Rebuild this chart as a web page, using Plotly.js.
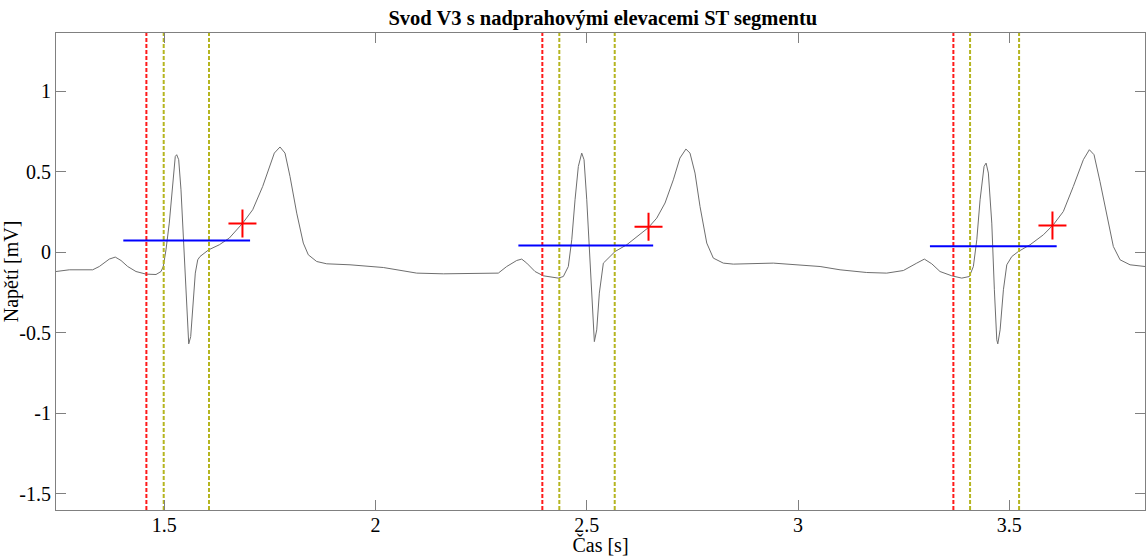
<!DOCTYPE html>
<html>
<head>
<meta charset="utf-8">
<script src="https://cdn.plot.ly/plotly-3.0.1.min.js"></script>
<style>html,body{margin:0;padding:0;background:#fff;}#chart{width:1146px;height:556px;}</style>
</head>
<body>
<div id="chart"></div>
<script>
// ECG signal (lead V3), time in s, voltage in mV
var time = [1.2437,1.2751,1.3305,1.3462,1.3698,1.384,1.3975,1.4134,1.433,1.4567,1.4804,1.4922,1.4976,1.504,1.5118,1.5199,1.526,1.5293,1.5341,1.5395,1.545,1.5514,1.5554,1.5578,1.5625,1.5672,1.5734,1.5791,1.5845,1.6051,1.6302,1.6538,1.6856,1.7092,1.7329,1.7604,1.7738,1.7857,1.7975,1.8134,1.829,1.8408,1.8607,1.8844,1.9395,2.0183,2.0579,2.0974,2.1604,2.2077,2.255,2.2905,2.3104,2.3341,2.3459,2.3578,2.3774,2.3971,2.4326,2.4444,2.4562,2.4643,2.4721,2.4799,2.4879,2.4934,2.4998,2.5076,2.514,2.5178,2.5234,2.5296,2.5391,2.5509,2.5668,2.5944,2.6259,2.6456,2.6654,2.6851,2.7047,2.7203,2.7345,2.7442,2.756,2.7679,2.7838,2.7994,2.823,2.8467,2.9414,2.9887,3.052,3.0993,3.1625,3.2098,3.2491,3.2808,3.2988,3.3163,3.3359,3.3637,3.3873,3.4053,3.4148,3.4229,3.4307,3.4401,3.4449,3.4503,3.4584,3.4645,3.4702,3.4726,3.4781,3.4859,3.4939,3.5058,3.5213,3.5489,3.5805,3.6041,3.6277,3.6514,3.6751,3.6893,3.7004,3.7146,3.7304,3.7461,3.762,3.7856,3.8211];
var voltage = [-0.1206,-0.110,-0.110,-0.0895,-0.0435,-0.031,-0.052,-0.0895,-0.1206,-0.1367,-0.1392,-0.1206,-0.0895,0.0143,0.180,0.449,0.594,0.605,0.574,0.387,0.0764,-0.234,-0.462,-0.570,-0.525,-0.338,-0.1305,-0.0479,-0.0273,0.0143,0.0454,0.087,0.180,0.263,0.408,0.615,0.653,0.615,0.470,0.242,0.056,-0.0168,-0.0584,-0.0727,-0.0789,-0.0957,-0.1144,-0.1305,-0.1349,-0.1349,-0.1305,-0.1305,-0.0895,-0.052,-0.0435,-0.0684,-0.1206,-0.1473,-0.1616,-0.1516,-0.0895,0.0764,0.325,0.532,0.615,0.574,0.325,-0.0895,-0.400,-0.556,-0.483,-0.255,-0.0684,-0.0373,0.0037,0.0454,0.1075,0.152,0.211,0.305,0.449,0.584,0.640,0.615,0.491,0.283,0.056,-0.0373,-0.0684,-0.0746,-0.0684,-0.0789,-0.0895,-0.110,-0.1268,-0.1305,-0.1144,-0.0684,-0.0435,-0.0727,-0.1206,-0.1473,-0.1616,-0.1516,-0.0895,0.0764,0.325,0.532,0.553,0.491,0.180,-0.234,-0.545,-0.570,-0.483,-0.234,-0.0789,-0.0273,0.0037,0.0454,0.1075,0.170,0.252,0.408,0.574,0.636,0.605,0.437,0.242,0.0348,-0.0479,-0.0789,-0.0895];

// detected ST points (red +)
var stTime = [1.685, 2.646, 3.602];
var stVolt = [0.177, 0.157, 0.166];

// isoelectric level segments (blue)
var isoStart = [1.403, 2.338, 3.312];
var isoEnd   = [1.703, 2.657, 3.612];
var isoLevel = [0.072, 0.041, 0.037];

// markers: red = onset, olive = QRS boundaries
var redLines   = [1.4576, 2.3947, 3.3675];
var oliveLines = [1.4986, 1.6058, 2.4349, 2.566, 3.407, 3.523];

var xRange = [1.2437, 3.821];
var yRange = [-1.602, 1.361];
var xTicks = [1.5, 2, 2.5, 3, 3.5];
var yTicks = [-1.5, -1, -0.5, 0, 0.5, 1];

var traces = [];
traces.push({x: time, y: voltage, mode: 'lines', line: {color: '#6e6e6e', width: 1}, hoverinfo: 'skip'});

function vline(x, color) {
  return {x: [x, x], y: yRange, mode: 'lines', line: {color: color, width: 2, dash: '4px,2px'}, hoverinfo: 'skip'};
}
redLines.forEach(function (x) { traces.push(vline(x, '#ff1a1a')); });
oliveLines.forEach(function (x) { traces.push(vline(x, '#b5b520')); });

for (var i = 0; i < isoStart.length; i++) {
  traces.push({x: [isoStart[i], isoEnd[i]], y: [isoLevel[i], isoLevel[i]], mode: 'lines',
    line: {color: '#0000ff', width: 2}, hoverinfo: 'skip'});
}
traces.push({x: stTime, y: stVolt, mode: 'markers',
  marker: {symbol: 'cross-thin', size: 20, line: {color: '#ff0000', width: 2}, color: '#ff0000'}});

var fam = '"Liberation Serif", "Times New Roman", serif';
var tickFont = {family: fam, color: '#000', size: 20};
var axFont = {family: fam, color: '#000', size: 20};
var layout = {
  width: 1146, height: 556,
  margin: {l: 56, r: 1, t: 33, b: 46},
  paper_bgcolor: '#fff', plot_bgcolor: '#fff',
  showlegend: false,
  font: tickFont,
  title: {text: '<b>Svod V3 s nadprahovými elevacemi ST segmentu</b>', font: {family: fam, size: 20.5, color: '#000'},
    x: 0.526, xanchor: 'center', y: 0.968, yanchor: 'middle'},
  xaxis: {range: xRange, tickvals: xTicks, ticktext: xTicks.map(String), ticks: 'inside', ticklen: 10,
    tickcolor: '#808080', showline: true, linecolor: '#808080', linewidth: 1, mirror: 'ticks',
    showgrid: false, zeroline: false, tickfont: tickFont, ticklabelstandoff: -3,
    title: {text: 'Čas [s]', font: axFont, standoff: 4}},
  yaxis: {range: yRange, tickvals: yTicks, ticktext: yTicks.map(String), ticks: 'inside', ticklen: 10,
    tickcolor: '#808080', showline: true, linecolor: '#808080', linewidth: 1, mirror: 'ticks',
    showgrid: false, zeroline: false, tickfont: tickFont,
    title: {text: 'Napětí [mV]', font: axFont, standoff: 2}}
};
Plotly.newPlot('chart', traces, layout, {staticPlot: true});
</script>
</body>
</html>
